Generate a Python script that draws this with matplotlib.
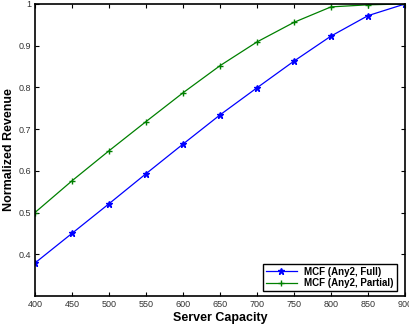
import matplotlib
matplotlib.use("Agg")
import matplotlib.pyplot as plt

plt.rcParams['font.family'] = ['Liberation Sans', 'DejaVu Sans']

capacity = [400, 450, 500, 550, 600, 650, 700, 750, 800, 850, 900]
full = [0.379, 0.450, 0.521, 0.593, 0.664, 0.734, 0.799, 0.863, 0.923, 0.972, 1.0]
partial = [0.500, 0.576, 0.648, 0.718, 0.787, 0.852, 0.909, 0.956, 0.993, 0.998, 1.0]

xticks = [400, 450, 500, 550, 600, 650, 700, 750, 800, 850, 900]
yticks = [0.4, 0.5, 0.6, 0.7, 0.8, 0.9, 1.0]
ytick_labels = ["0.4", "0.5", "0.6", "0.7", "0.8", "0.9", "1"]

fig = plt.figure(figsize=(4.09, 3.31), dpi=100)
ax = fig.add_axes([0.0856, 0.106, 0.9046, 0.882])

ax.plot(capacity, full, color=(0, 0, 1), lw=0.9, marker='*', ms=4.5,
        label='MCF (Any2, Full)')
ax.plot(capacity, partial, color=(0, 0.5, 0), lw=0.9, marker='+', ms=5,
        mew=1.0, label='MCF (Any2, Partial)')

ax.set_xlim(400, 900)
ax.set_ylim(0.3, 1.0)
ax.set_xticks(xticks)
ax.set_yticks(yticks)
ax.set_yticklabels(ytick_labels)
ax.tick_params(direction='in', length=3, width=0.8, labelsize=6.5,
               top=True, right=True, labelcolor='#333333', pad=3)
for s in ax.spines.values():
    s.set_linewidth(1.2)

ax.set_xlabel('Server Capacity', fontsize=9, fontweight='bold', labelpad=2)
ax.set_ylabel('Normalized Revenue', fontsize=9, fontweight='bold')
ax.yaxis.set_label_coords(-0.055, 0.5)

leg = ax.legend(loc='lower right', bbox_to_anchor=(0.978, 0.017),
                prop={'weight': 'bold', 'size': 7},
                fancybox=False, edgecolor='black', framealpha=1,
                borderpad=0.3, labelspacing=0.15, handlelength=3.2,
                handletextpad=0.8, borderaxespad=0.0)
leg.get_frame().set_linewidth(1.0)

fig.savefig('out.png', dpi=100)
